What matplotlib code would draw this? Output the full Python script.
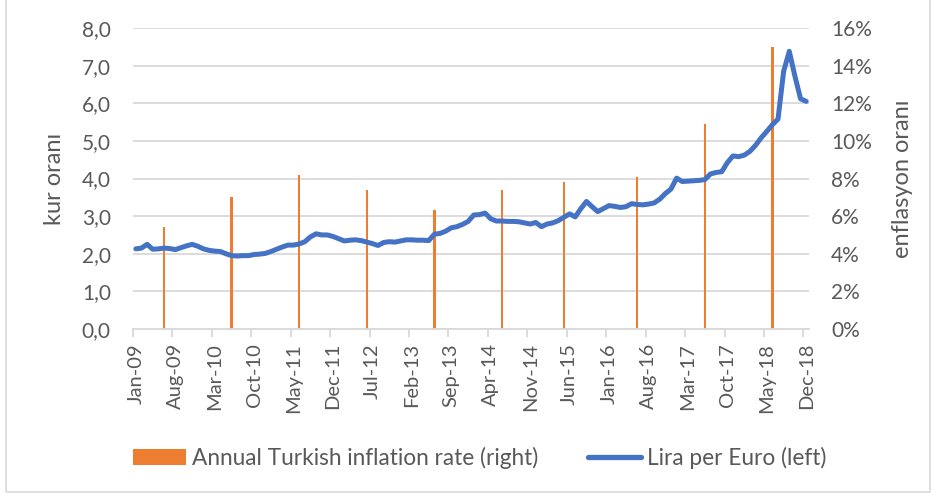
import numpy as np
import matplotlib
matplotlib.use("Agg")
import matplotlib.pyplot as plt
from matplotlib.patches import Patch, Rectangle
from matplotlib.lines import Line2D
from matplotlib.ticker import FuncFormatter

plt.rcParams['font.family'] = ['Lato', 'DejaVu Sans']

# monthly Lira per Euro, Jan-09 .. Dec-18
months = ['Jan', 'Feb', 'Mar', 'Apr', 'May', 'Jun',
          'Jul', 'Aug', 'Sep', 'Oct', 'Nov', 'Dec']
years = list(range(2009, 2019))
dates = ["{}-{:02d}".format(m, y % 100) for y in years for m in months]

lira_2009 = [2.13, 2.15, 2.25, 2.12, 2.13, 2.15, 2.14, 2.11, 2.16, 2.21, 2.25, 2.20]
lira_2010 = [2.13, 2.09, 2.07, 2.06, 2.00, 1.95, 1.94, 1.95, 1.95, 1.98, 1.99, 2.01]
lira_2011 = [2.06, 2.12, 2.18, 2.23, 2.23, 2.26, 2.32, 2.45, 2.53, 2.50, 2.50, 2.46]
lira_2012 = [2.40, 2.34, 2.36, 2.37, 2.35, 2.31, 2.27, 2.22, 2.30, 2.32, 2.31, 2.34]
lira_2013 = [2.37, 2.37, 2.36, 2.36, 2.35, 2.52, 2.54, 2.60, 2.69, 2.72, 2.78, 2.86]
lira_2014 = [3.03, 3.04, 3.08, 2.93, 2.87, 2.87, 2.86, 2.86, 2.85, 2.82, 2.79, 2.83]
lira_2015 = [2.72, 2.79, 2.82, 2.88, 2.97, 3.06, 2.98, 3.20, 3.39, 3.25, 3.12, 3.20]
lira_2016 = [3.28, 3.26, 3.23, 3.25, 3.33, 3.31, 3.30, 3.32, 3.35, 3.45, 3.60, 3.72]
lira_2017 = [4.01, 3.92, 3.93, 3.94, 3.95, 3.97, 4.12, 4.16, 4.18, 4.42, 4.60, 4.58]
lira_2018 = [4.62, 4.72, 4.88, 5.08, 5.25, 5.43, 5.58, 6.85, 7.38, 6.72, 6.12, 6.05]
lira = (lira_2009 + lira_2010 + lira_2011 + lira_2012 + lira_2013 +
        lira_2014 + lira_2015 + lira_2016 + lira_2017 + lira_2018)

# annual inflation (%), one value per year
infl_dates = ['Jun-09', 'Jun-10', 'Jun-11', 'Jun-12', 'Jun-13',
              'Jun-14', 'May-15', 'Jun-16', 'Jun-17', 'Jun-18']
infl = [5.4, 7.0, 8.2, 7.4, 6.3, 7.4, 7.8, 8.1, 10.9, 15.0]

orange = '#ED7D31'
blue = '#4472C4'
grey = '#595959'
gridc = '#D9D9D9'

fig = plt.figure(figsize=(9.35, 4.98), dpi=100)
ax = fig.add_axes([133 / 935, 1 - 329 / 498, (809 - 133) / 935, (329 - 28) / 498])
ax2 = ax.twinx()

x = np.arange(len(dates))
infl_x = [dates.index(d) for d in infl_dates]

# bars on the right axis, underneath
ax2.bar(infl_x, infl, width=0.45, color=orange, zorder=2)
ax2.set_ylim(0, 16)
ax2.set_yticks(range(0, 17, 2))
ax2.yaxis.set_major_formatter(FuncFormatter(lambda v, p: "{:.0f}%".format(v)))
ax2.grid(axis='y', color=gridc, linewidth=1.3, zorder=0)
ax2.set_axisbelow(True)
ax2.set_ylabel('enflasyon oranı', fontsize=17, color=grey, labelpad=14)

# line on the left axis, on top
ax.set_zorder(ax2.get_zorder() + 1)
ax.patch.set_visible(False)
ax.plot(x, lira, color=blue, linewidth=3.6, solid_capstyle='round',
        solid_joinstyle='round')
ax.set_ylim(0, 8)
ax.set_yticks(range(0, 9))
ax.yaxis.set_major_formatter(FuncFormatter(lambda v, p: "{:.1f}".format(v).replace('.', ',')))
ax.set_ylabel('kur oranı', fontsize=17, color=grey, labelpad=12)
ax.set_xlim(-0.5, len(dates) - 0.5)

lab_x = list(range(0, len(dates), 7))
ax.set_xticks(lab_x)
ax.set_xticklabels([dates[i] for i in lab_x], rotation=90)
ax.set_xticks([i - 0.5 for i in lab_x], minor=True)
ax.tick_params(axis='x', which='major', length=0, pad=10, labelsize=14.5, labelcolor=grey)
ax.tick_params(axis='x', which='minor', length=6, color=gridc, width=1.3)

for a in (ax, ax2):
    for s in a.spines.values():
        s.set_visible(False)
    a.tick_params(axis='y', length=0, pad=16, labelsize=15, labelcolor=grey)
ax.spines['bottom'].set_visible(True)
ax.spines['bottom'].set_color(gridc)
ax.spines['bottom'].set_linewidth(1.3)

handles = [Patch(facecolor=orange, edgecolor='none'),
           Line2D([], [], color=blue, linewidth=3.8, solid_capstyle='round')]
labels = ['Annual Turkish inflation rate (right)', 'Lira per Euro (left)']
fig.legend(handles, labels, loc='center', bbox_to_anchor=(0.513, 0.08), ncol=2,
           frameon=False, fontsize=16.3, labelcolor=grey, handlelength=2.35,
           handletextpad=0.27, columnspacing=2.2)

fig.patches.append(Rectangle((6 / 935, 6 / 498), 924 / 935, 1.2, transform=fig.transFigure,
                             fill=False, edgecolor=gridc, linewidth=1.2))

fig.savefig('out.png', dpi=100)
